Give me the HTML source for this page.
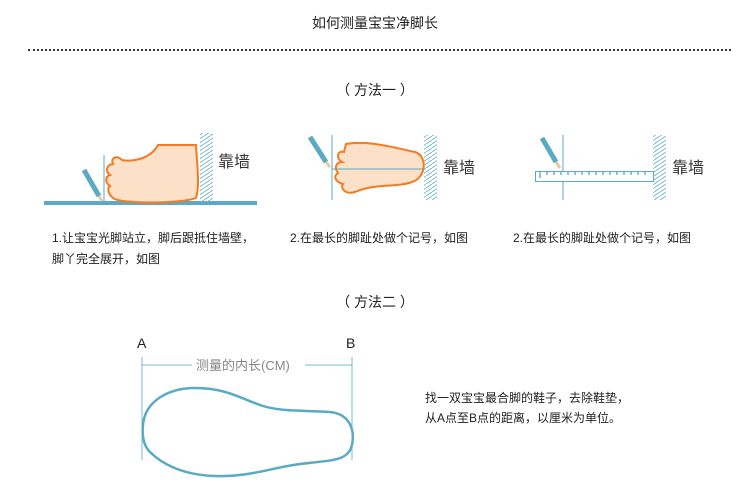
<!DOCTYPE html>
<html><head><meta charset="utf-8"><style>
body{margin:0;width:750px;height:502px;background:#fff;overflow:hidden;font-family:"Liberation Sans","Noto Sans CJK SC",sans-serif;color:#222}
.t{position:absolute;white-space:nowrap}
</style></head><body>
<div class="t" style="left:0;width:750px;text-align:center;top:13px;font-size:14px">如何测量宝宝净脚长</div>
<div style="position:absolute;left:28px;top:49px;width:703px;border-top:2px dotted #333"></div>
<div class="t" style="left:0;width:750px;text-align:center;top:80px;font-size:14px">（ 方法一 ）</div>
<div class="t" style="left:0;width:750px;text-align:center;top:292px;font-size:14px">（ 方法二 ）</div>
<svg width="750" height="502" style="position:absolute;left:0;top:0">
<defs><pattern id="h" width="6" height="4" patternUnits="userSpaceOnUse"><line x1="0" y1="4" x2="6" y2="0" stroke="#7ab8d0" stroke-width="1"/></pattern></defs>
<rect x="44" y="201" width="213" height="4" fill="#5aaac4"/>
<line x1="104" y1="155" x2="104" y2="203" stroke="#5aaac4"/>
<rect x="200" y="133" width="13" height="69" fill="url(#h)"/>
<path d="M158,145 L196,145 C197,165 200,185 196,198 C180,204 120,204 113,198 C108,194 107,188 110,186 C104,182 106,176 110,175 C104,170 108,164 113,164 C110,157 118,155 122,160 C130,162 150,160 158,145Z" fill="#fde0c8" stroke="#f57a20" stroke-width="2"/>
<line x1="84" y1="170" x2="99" y2="196" stroke="#5aaac4" stroke-width="5"/>
<line x1="99" y1="196" x2="102" y2="201" stroke="#e9c9a0" stroke-width="3"/>
<text x="218" y="167" font-size="16" fill="#333">靠墙</text>
<line x1="332" y1="135" x2="332" y2="200" stroke="#5aaac4"/>
<rect x="424" y="135" width="13" height="65" fill="url(#h)"/>
<path d="M346,144 C370,140 395,148 415,152 C428,156 426,178 412,182 C395,188 375,183 355,192 C345,195 340,188 343,184 C335,182 333,176 338,173 C334,168 336,162 342,162 C335,158 338,150 344,152Z" fill="#fde0c8" stroke="#f57a20" stroke-width="2"/>
<line x1="332" y1="169" x2="424" y2="169" stroke="#5aaac4"/>
<line x1="310" y1="137" x2="326" y2="162" stroke="#5aaac4" stroke-width="5"/>
<line x1="326" y1="162" x2="330" y2="167" stroke="#e9c9a0" stroke-width="3"/>
<text x="443" y="173" font-size="16" fill="#333">靠墙</text>
<line x1="563" y1="135" x2="563" y2="200" stroke="#5aaac4"/>
<rect x="653" y="135" width="13" height="65" fill="url(#h)"/>
<rect x="535.5" y="171.5" width="118" height="10" fill="#fff" stroke="#5aaac4"/>
<path d="M540,172v6M547,172v3M554,172v3M561,172v3M568,172v3M575,172v3M582,172v3M589,172v3M596,172v3M603,172v3M610,172v3M617,172v3M624,172v3M631,172v3M638,172v3M645,172v3" stroke="#6ab2cc" stroke-width="1.5"/>
<line x1="542" y1="138" x2="556" y2="162" stroke="#5aaac4" stroke-width="5"/>
<line x1="556" y1="162" x2="560" y2="168" stroke="#e9c9a0" stroke-width="3"/>
<text x="672" y="173" font-size="16" fill="#333">靠墙</text>
<line x1="142" y1="357" x2="142" y2="460" stroke="#7ab8d0"/>
<line x1="352" y1="357" x2="352" y2="460" stroke="#7ab8d0"/>
<line x1="142" y1="365" x2="192" y2="365" stroke="#7ab8d0"/>
<line x1="305" y1="365" x2="352" y2="365" stroke="#7ab8d0"/>
<text x="196" y="370" font-size="13" fill="#888">测量的内长(CM)</text>
<text x="137" y="348" font-size="14" fill="#222">A</text>
<text x="346" y="348" font-size="14" fill="#222">B</text>
<path d="M143,425 C145,400 170,388 195,388 C225,388 240,398 260,405 C280,412 300,410 330,412 C350,414 355,430 352,445 C348,462 330,460 300,464 C270,468 250,477 215,476 C180,475 160,462 150,452 C143,445 142,435 143,425Z" fill="none" stroke="#5aaac4" stroke-width="2.5"/>
</svg>
<div class="t" style="left:52px;top:228px;font-size:12px;line-height:21px">1.让宝宝光脚站立，脚后跟抵住墙壁，<br>脚丫完全展开，如图</div>
<div class="t" style="left:290px;top:228px;font-size:12px;line-height:21px">2.在最长的脚趾处做个记号，如图</div>
<div class="t" style="left:513px;top:228px;font-size:12px;line-height:21px">2.在最长的脚趾处做个记号，如图</div>
<div class="t" style="left:425px;top:388px;font-size:12px;line-height:20px">找一双宝宝最合脚的鞋子，去除鞋垫，<br>从A点至B点的距离，以厘米为单位。</div>
</body></html>
